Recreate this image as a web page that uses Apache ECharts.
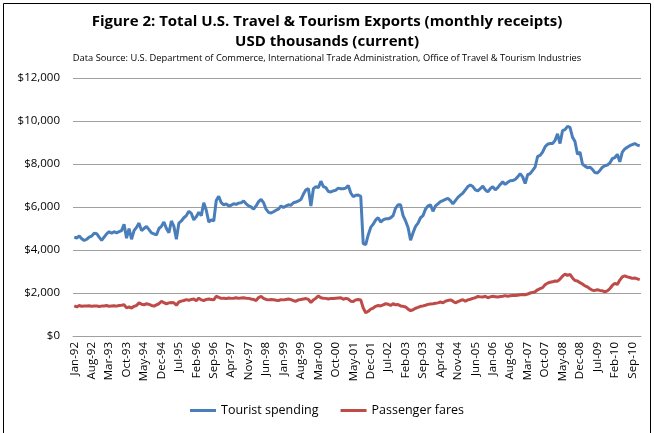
<!DOCTYPE html>
<html>
<head>
<meta charset="utf-8">
<script src="https://cdn.jsdelivr.net/npm/echarts@6/dist/echarts.min.js"></script>
<style>
  html, body { margin: 0; padding: 0; background: #fff; }
  #chart { width: 654px; height: 433px; }
</style>
</head>
<body>
<div id="chart"></div>
<script>
// months Jan-92 .. Dec-10
const monthNames = ["Jan", "Feb", "Mar", "Apr", "May", "Jun", "Jul", "Aug", "Sep", "Oct", "Nov", "Dec"];
const years = ["92", "93", "94", "95", "96", "97", "98", "99", "00", "01",
  "02", "03", "04", "05", "06", "07", "08", "09", "10"];
const categories = [];
years.forEach(y => monthNames.forEach(m => categories.push(m + "-" + y)));

const touristSpending = [
  4600, 4560, 4650, 4520, 4440, 4500, 4600, 4650, 4780, 4760, 4600, 4450,
  4600, 4750, 4850, 4780, 4850, 4800, 4850, 4900, 5200, 4550, 5000, 4500,
  4900, 5050, 5250, 4900, 5000, 5100, 4950, 4800, 4750, 4700, 5000, 5100,
  5300, 5000, 4800, 5350, 5100, 4500, 5250, 5350, 5500, 5600, 5800, 5700,
  5400, 5550, 5750, 5600, 6200, 5850, 5300, 5400, 5350, 6300, 6500, 6200,
  6100, 6150, 6050, 6080, 6150, 6120, 6180, 6200, 6280, 6150, 6050, 6000,
  5900, 6050, 6250, 6350, 6200, 5900, 5750, 5720, 5780, 5850, 5900, 6050,
  5980, 6050, 6100, 6080, 6200, 6230, 6280, 6350, 6600, 6800, 6850, 6050,
  6850, 6950, 6900, 7200, 6950, 6900, 6720, 6700, 6750, 6780, 6880, 6850,
  6850, 6880, 7000, 6650, 6480, 6550, 6560, 6500, 4300, 4250, 4700, 5050,
  5200, 5400, 5500, 5300, 5400, 5450, 5450, 5500, 5600, 5950, 6100, 6100,
  5600, 5350, 5050, 4450, 4800, 5100, 5250, 5500, 5600, 5900, 6050, 6100,
  5800, 6050, 6150, 6250, 6300, 6350, 6400, 6300, 6140, 6300, 6450, 6550,
  6650, 6800, 6950, 7020, 6950, 6800, 6750, 6850, 6970, 6800, 6700, 6850,
  6950, 6800, 6900, 7050, 7170, 7050, 7150, 7220, 7230, 7280, 7400, 7550,
  7400, 7090, 7500, 7550, 7700, 7860, 8350, 8400, 8550, 8800, 8920, 8950,
  8950, 9100, 9400, 8950, 9550, 9600, 9750, 9700, 9250, 9050, 8450, 8550,
  8000, 7900, 7830, 7850, 7750, 7600, 7580, 7700, 7850, 7920, 7950, 8050,
  8250, 8300, 8450, 8100, 8550, 8700, 8780, 8850, 8900, 8950, 8880, 8850
];

const passengerFares = [
  1400, 1350, 1420, 1380, 1390, 1400, 1410, 1380, 1390, 1400, 1370, 1390,
  1400, 1420, 1380, 1400, 1410, 1390, 1420, 1430, 1450, 1310, 1350, 1300,
  1380, 1420, 1540, 1480, 1450, 1500, 1470, 1420, 1390, 1450, 1500, 1610,
  1550, 1500, 1540, 1560, 1550, 1430, 1580, 1620, 1650, 1690, 1660, 1700,
  1720, 1640, 1760, 1680, 1650, 1700, 1720, 1700, 1680, 1850, 1800, 1750,
  1760, 1740, 1770, 1750, 1760, 1780, 1750, 1770, 1780, 1760, 1750, 1720,
  1700, 1650, 1790, 1840, 1750, 1700, 1680, 1700, 1690, 1660, 1650, 1690,
  1680, 1700, 1720, 1690, 1640, 1620, 1680, 1700, 1720, 1740, 1700, 1560,
  1680, 1760, 1860, 1780, 1760, 1750, 1720, 1750, 1740, 1760, 1770, 1780,
  1710, 1750, 1720, 1620, 1600, 1680, 1700, 1680, 1300, 1080, 1150, 1250,
  1300, 1380, 1420, 1400, 1450, 1500, 1480, 1420, 1500, 1450, 1460, 1400,
  1380, 1350, 1250, 1180, 1220, 1290, 1330, 1380, 1400, 1430, 1470, 1490,
  1500, 1520, 1540, 1580, 1550, 1620, 1650, 1680, 1620, 1540, 1600, 1650,
  1690, 1620, 1680, 1710, 1750, 1780, 1840, 1820, 1810, 1850, 1780, 1820,
  1850, 1830, 1810, 1840, 1850, 1880, 1850, 1870, 1880, 1880, 1900, 1920,
  1930, 1920, 1950, 2000, 2020, 2060, 2150, 2200, 2250, 2380, 2460, 2500,
  2520, 2560, 2550, 2650, 2780, 2880, 2820, 2870, 2700, 2580, 2560, 2480,
  2420, 2330, 2280, 2200, 2130, 2120, 2150, 2120, 2100, 2060, 2100, 2200,
  2350, 2450, 2400, 2600, 2750, 2800, 2750, 2720, 2680, 2700, 2660, 2620
];

const chart = echarts.init(document.getElementById("chart"));
const font = "'Open Sans', 'Liberation Sans', sans-serif";

chart.setOption({
  animation: false,
  textStyle: { fontFamily: font },
  graphic: [{
    type: "rect",
    shape: { x: 3.5, y: 3.5, width: 647, height: 440 },
    style: { fill: "none", stroke: "#000", lineWidth: 1 }
  }],
  title: [
    {
      text: "Figure 2: Total U.S. Travel & Tourism Exports (monthly receipts)",
      left: "center", top: 9,
      textStyle: { fontSize: 15, fontWeight: "bold", color: "#000", fontFamily: font }
    },
    {
      text: "USD thousands (current)",
      left: "center", top: 29,
      textStyle: { fontSize: 15, fontWeight: "bold", color: "#000", fontFamily: font }
    },
    {
      text: "Data Source: U.S. Department of Commerce, International Trade Administration, Office of Travel & Tourism Industries",
      left: "center", top: 49,
      textStyle: { fontSize: 9.3, fontWeight: "normal", color: "#000", fontFamily: font }
    }
  ],
  legend: {
    bottom: 11,
    left: "center",
    icon: "rect",
    itemWidth: 26,
    itemHeight: 3,
    itemGap: 22,
    textStyle: { fontSize: 12.5, color: "#000" },
    data: ["Tourist spending", "Passenger fares"]
  },
  grid: { left: 73, right: 13, top: 78, bottom: 97 },
  xAxis: {
    type: "category",
    data: categories,
    boundaryGap: true,
    axisLine: { lineStyle: { color: "#a0a0a0" } },
    axisTick: { show: false },
    axisLabel: {
      interval: 6,
      rotate: 90,
      fontSize: 11.5,
      color: "#000",
      margin: 6
    }
  },
  yAxis: {
    type: "value",
    min: 0,
    max: 12000,
    interval: 2000,
    axisLine: { show: false },
    axisTick: { show: false },
    splitLine: { lineStyle: { color: "#a0a0a0", width: 1 } },
    axisLabel: {
      fontSize: 11.5,
      color: "#000",
      margin: 13,
      formatter: v => "$" + v.toLocaleString("en-US")
    }
  },
  series: [
    {
      name: "Tourist spending",
      type: "line",
      data: touristSpending,
      symbol: "none",
      lineStyle: { color: "#4A7EBB", width: 3 },
      itemStyle: { color: "#4A7EBB" }
    },
    {
      name: "Passenger fares",
      type: "line",
      data: passengerFares,
      symbol: "none",
      lineStyle: { color: "#BE4B48", width: 3 },
      itemStyle: { color: "#BE4B48" }
    }
  ]
});
</script>
</body>
</html>
